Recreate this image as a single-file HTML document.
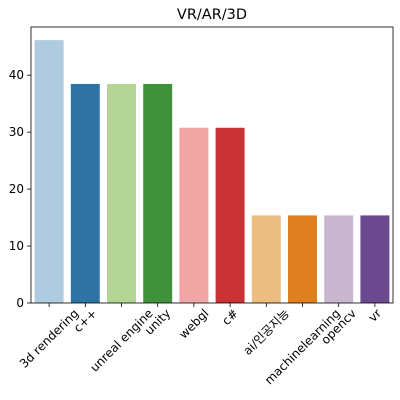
<!DOCTYPE html>
<html><head><meta charset="utf-8"><style>body{margin:0;background:#fff}svg{display:block;font-family:"DejaVu Sans","Noto Sans CJK KR",sans-serif}</style></head><body>
<svg id="c" width="400" height="400"></svg>
<script>
const categories=["3d rendering","c++","unreal engine","unity","webgl","c#","ai/인공지능","machinelearning","opencv","vr"];
const values=[46.15,38.46,38.46,38.46,30.77,30.77,15.38,15.38,15.38,15.38];
const yTicks=[0,10,20,30,40];
const colors=["#aecbe0","#2f73a4","#b3d495","#40923a","#efa6a5","#ca3335","#ebbd81","#df7f20","#c8b6d1","#6a498e"];
const L=31,R=393,T=27,B=303,yMax=48.46;
const svg=document.getElementById('c'),NS="http://www.w3.org/2000/svg";
function mk(t,a,p){const e=document.createElementNS(NS,t);for(const k in a)e.setAttribute(k,a[k]);(p||svg).appendChild(e);return e;}
const y=v=>B-(v/yMax)*(B-T);
const slot=(R-L)/categories.length;
const x=i=>L+slot*(i+0.5);
const title=mk('text',{x:(L+R)/2,y:19,'text-anchor':'middle','font-size':14.5,fill:'#000'});title.textContent="VR/AR/3D";


values.forEach((v,i)=>{
 const r=mk('rect',{x:x(i)-slot*0.4,y:y(v),width:slot*0.8,height:B-y(v),fill:colors[i]});
 
 
 mk('line',{x1:x(i),x2:x(i),y1:B,y2:B+4,stroke:'#000','stroke-width':0.8});
 const t=mk('text',{x:0,y:0,'text-anchor':'middle','font-size':12,fill:'#000'});
 t.textContent=categories[i];
 const w=t.getComputedTextLength(),h=12;
 const bh=(w+h)*0.7071;
 t.setAttribute('transform',`translate(${x(i)},${B+4+bh/2}) rotate(-45) translate(0,4)`);
 
 
});
yTicks.forEach(v=>{
 mk('line',{x1:L-4,x2:L,y1:y(v),y2:y(v),stroke:'#000','stroke-width':0.8});
 const t=mk('text',{x:L-7,y:y(v)+4,'text-anchor':'end','font-size':12,fill:'#000'});t.textContent=v;
 
 
});
const f=mk('rect',{x:L,y:T,width:R-L,height:B-T,fill:'none',stroke:'#000','stroke-width':0.8});


</script>
</body></html>
